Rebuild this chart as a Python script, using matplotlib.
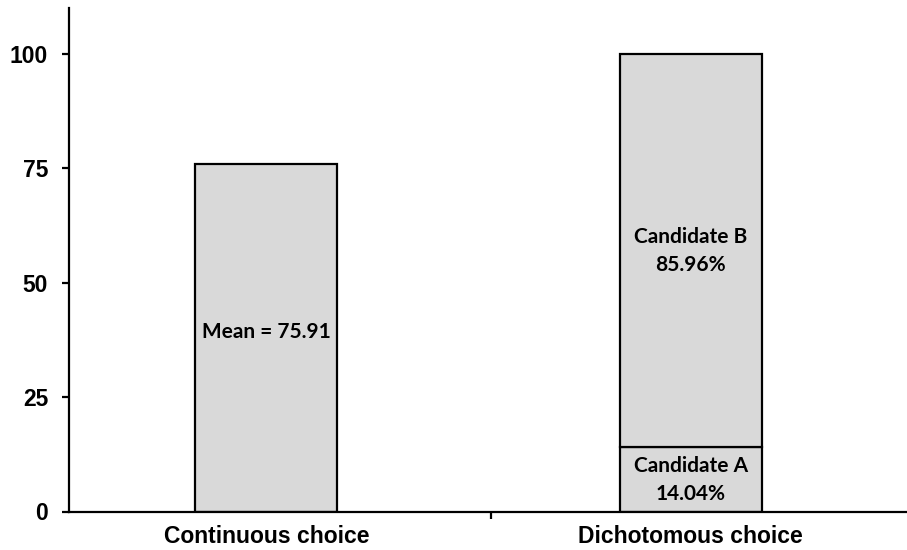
import matplotlib
matplotlib.use('Agg')
import matplotlib.pyplot as plt

# values
categories = ['Continuous choice', 'Dichotomous choice']
mean_continuous = 75.91
candidate_a = 14.04
candidate_b = 85.96
yticks = [0, 25, 50, 75, 100]

bar_color = '#d9d9d9'
edge = 'black'
lw = 1.6

fig = plt.figure(figsize=(9.07, 5.5), dpi=100)
ax = fig.add_axes([69 / 907, (550 - 511.5) / 550, (907 - 69) / 907, (511.5 - 8) / 550])

x = [0, 1]
width = 0.335

# continuous choice: a single bar with the mean
ax.bar(x[0], mean_continuous, width, color=bar_color, edgecolor=edge, linewidth=lw)
# dichotomous choice: stacked shares of candidate A and B
ax.bar(x[1], candidate_a, width, color=bar_color, edgecolor=edge, linewidth=lw)
ax.bar(x[1], candidate_b, width, bottom=candidate_a, color=bar_color, edgecolor=edge, linewidth=lw)

lab_font = dict(family='Lato', fontweight='bold', fontsize=15, ha='center', va='center',
                linespacing=1.5)
ax.text(x[0], 39.2, 'Mean = %.2f' % mean_continuous, **lab_font)
ax.text(x[1], 56.9, 'Candidate B\n%.2f%%' % candidate_b, **lab_font)
ax.text(x[1], 6.9, 'Candidate A\n%.2f%%' % candidate_a, **lab_font)

ax.set_xlim(-0.465, 1.51)
ax.set_ylim(0, 110)

ax.spines['top'].set_visible(False)
ax.spines['right'].set_visible(False)
ax.spines['left'].set_linewidth(lw)
ax.spines['bottom'].set_linewidth(lw)

ax.set_yticks(yticks)
ax.set_yticklabels([str(t) for t in yticks], fontsize=16.5, fontweight='bold', family='Liberation Sans')
ax.tick_params(axis='y', direction='out', length=5, width=lw, pad=10)

ax.set_xticks(x)
ax.set_xticklabels(categories, fontsize=16.5, fontweight='bold', family='Liberation Sans')
ax.tick_params(axis='x', which='major', length=0, pad=10)
ax.set_xticks([0.53], minor=True)
ax.tick_params(axis='x', which='minor', direction='out', length=5, width=lw)

fig.savefig('out.png', dpi=100)
